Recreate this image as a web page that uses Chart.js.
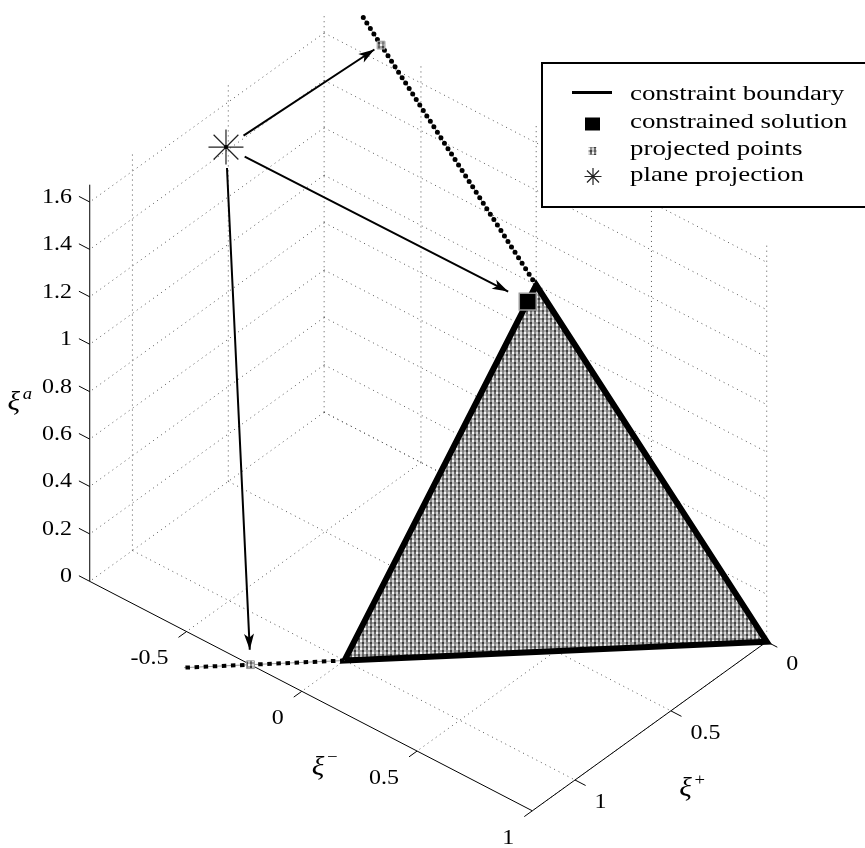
<!DOCTYPE html>
<html>
<head>
<meta charset="utf-8">
<script src="https://cdn.jsdelivr.net/npm/chart.js@4.4.1/dist/chart.umd.min.js"></script>
<style>
  html, body { margin: 0; padding: 0; background: #fff; }
</style>
</head>
<body>
<canvas id="c" width="865" height="848"></canvas>
<script>
// axis limits: xi-, xi+, xi^a
const minusLim = [-0.92, 1];
const plusLim = [0, 1.2227];
const alphaLim = [0, 1.673];

// tick values and labels
const minusTicks = [-0.5, 0, 0.5, 1];
const minusTickLabels = ['-0.5', '0', '0.5', '1'];
const plusTicks = [0, 0.5, 1];
const plusTickLabels = ['0', '0.5', '1'];
const alphaTicks = [0, 0.2, 0.4, 0.6, 0.8, 1, 1.2, 1.4, 1.6];
const alphaTickLabels = ['0', '0.2', '0.4', '0.6', '0.8', '1', '1.2', '1.4', '1.6'];

// points are [xi-, xi+, xi^a]
const constraintCorners = [[0, 0, 1], [0, 1, 0], [1, 0, 0]];
const upperExtension = [[0, 0, 1], [-0.753, 0, 1.753]];
const lowerExtension = [[0, 1, 0], [-0.38, 1.38, 0]];
const projectedPoints = [[-0.673, 0, 1.673], [-0.2227, 1.2227, 0]];
const constrainedSolution = [[0, 0.044, 0.956]];
const planeProjection = [[-0.92, 0.512, 1.417]];
const arrowTargets = [[-0.673, 0, 1.673], [0, 0.044, 0.956], [-0.2227, 1.2227, 0]];

const legendLabels = ['constraint boundary', 'constrained solution', 'projected points', 'plane projection'];

// view: screen step for one unit along xi-, xi+, xi^a
const view = { u: [0.9722, -0.8085, 0], v: [-0.5040, -0.5833, 1] };
const pxPerUnit = 237.1;
const originPx = { x: 536.2, y: 522.2 };
const W = 865, H = 848;

const proj = ([m, p, a]) => ({
    x: view.u[0] * m + view.u[1] * p + view.u[2] * a,
    y: view.v[0] * m + view.v[1] * p + view.v[2] * a
});
const GAP = { x: NaN, y: NaN };
const segments = list => list.flatMap(s => [...s.map(proj), GAP]);

const [mMin, mMax] = minusLim;
const [pMin, pMax] = plusLim;
const [aMin, aMax] = alphaLim;

// tick lengths (data units)
const zTickLen = 0.047, mTickLen = 0.042, pTickLen = 0.046;

// grid lines on floor and the two back walls
const gridSegs = [];
minusTicks.forEach(m => gridSegs.push([[m, pMin, aMin], [m, pMax, aMin]]));
plusTicks.forEach(p => gridSegs.push([[mMin, p, aMin], [mMax, p, aMin]]));
plusTicks.forEach(p => gridSegs.push([[mMin, p, aMin], [mMin, p, aMax]]));
alphaTicks.forEach(a => gridSegs.push([[mMin, pMin, a], [mMin, pMax, a]]));
minusTicks.forEach(m => gridSegs.push([[m, pMin, aMin], [m, pMin, aMax]]));
alphaTicks.forEach(a => gridSegs.push([[mMin, pMin, a], [mMax, pMin, a]]));

// axis lines + ticks
const axisSegs = [
    [[mMin, pMax, aMin], [mMin, pMax, aMax]],
    [[mMin, pMax, aMin], [mMax, pMax, aMin]],
    [[mMax, pMin, aMin], [mMax, pMax, aMin]]
];
alphaTicks.forEach(a => axisSegs.push([[mMin, pMax, a], [mMin - zTickLen, pMax, a]]));
minusTicks.forEach(m => axisSegs.push([[m, pMax, aMin], [m, pMax + mTickLen, aMin]]));
plusTicks.forEach(p => axisSegs.push([[mMax, p, aMin], [mMax + pTickLen, p, aMin]]));

// arrows from the plane projection, trimmed at both ends (pixels)
const arrowStartGap = 21;
const arrowEndGaps = [8, 22, 15];
const arrows = arrowTargets.map((t, i) => {
    const a = proj(planeProjection[0]), b = proj(t);
    const dx = b.x - a.x, dy = b.y - a.y, L = Math.hypot(dx, dy);
    const s = arrowStartGap / pxPerUnit / L, e = 1 - arrowEndGaps[i] / pxPerUnit / L;
    return [{ x: a.x + dx * s, y: a.y + dy * s }, { x: a.x + dx * e, y: a.y + dy * e }];
});

// stippled grey fill like the printed original
const canvas = document.getElementById('c');
const mainCtx = canvas.getContext('2d');
const makeStipple = () => {
    const tile = document.createElement('canvas');
    tile.width = 8; tile.height = 8;
    const t = tile.getContext('2d');
    const shades = [
        [245, 135, 215, 105],
        [165, 60, 185, 125],
        [215, 115, 245, 145],
        [185, 95, 155, 70]
    ];
    shades.forEach((row, y) => row.forEach((g, x) => {
        t.fillStyle = `rgb(${g},${g},${g})`;
        t.fillRect(x * 2, y * 2, 2, 2);
    }));
    return mainCtx.createPattern(tile, 'repeat');
};
const stipple = makeStipple();

const serif = '"Liberation Serif", "Times New Roman", serif';

// text with the slight horizontal stretch of the scanned figure
const drawText = (ctx, text, x, y, align, font, sx, baseline) => {
    ctx.save();
    ctx.font = font;
    ctx.textBaseline = baseline || 'alphabetic';
    ctx.textAlign = 'left';
    const w = ctx.measureText(text).width * sx;
    const left = align === 'right' ? x - w : align === 'center' ? x - w / 2 : x;
    ctx.translate(left, y);
    ctx.scale(sx, 1);
    ctx.fillStyle = '#000';
    ctx.fillText(text, 0, 0);
    ctx.restore();
};

const drawAsterisk = (ctx, x, y, r, lw) => {
    ctx.save();
    ctx.strokeStyle = '#222';
    ctx.lineWidth = lw;
    ctx.beginPath();
    for (let k = 0; k < 4; k++) {
        const ang = k * Math.PI / 4;
        ctx.moveTo(x - Math.cos(ang) * r, y - Math.sin(ang) * r);
        ctx.lineTo(x + Math.cos(ang) * r, y + Math.sin(ang) * r);
    }
    ctx.stroke();
    ctx.restore();
};

const annotations = {
    id: 'annotations',
    afterDatasetsDraw(chart) {
        const { ctx } = chart;
        const xs = chart.scales.x, ys = chart.scales.y;
        const px = pt => { const q = proj(pt); return { x: xs.getPixelForValue(q.x), y: ys.getPixelForValue(q.y) }; };
        const toPx = q => ({ x: xs.getPixelForValue(q.x), y: ys.getPixelForValue(q.y) });

        // arrow heads
        ctx.save();
        ctx.fillStyle = '#000';
        arrows.forEach(([s, e]) => {
            const a = toPx(s), b = toPx(e);
            const dx = b.x - a.x, dy = b.y - a.y, L = Math.hypot(dx, dy);
            const ux = dx / L, uy = dy / L, len = 16, hw = 5;
            ctx.beginPath();
            ctx.moveTo(b.x, b.y);
            ctx.lineTo(b.x - ux * len - uy * hw, b.y - uy * len + ux * hw);
            ctx.lineTo(b.x - ux * len * 0.75, b.y - uy * len * 0.75);
            ctx.lineTo(b.x - ux * len + uy * hw, b.y - uy * len - ux * hw);
            ctx.closePath();
            ctx.fill();
        });
        // small centre dot of the asterisk
        const c = px(planeProjection[0]);
        ctx.beginPath();
        ctx.arc(c.x, c.y, 2, 0, Math.PI * 2);
        ctx.fill();
        ctx.restore();

        // tick labels
        const tickFont = '20px ' + serif;
        alphaTicks.forEach((a, i) => {
            const o = px([mMin - zTickLen, pMax, a]);
            drawText(ctx, alphaTickLabels[i], o.x - 7, o.y + 6.5, 'right', tickFont, 1.2);
        });
        minusTicks.forEach((m, i) => {
            const o = px([m, pMax + mTickLen, aMin]);
            drawText(ctx, minusTickLabels[i], o.x - 10, o.y + 27, 'right', tickFont, 1.2);
        });
        plusTicks.forEach((p, i) => {
            const o = px([mMax + pTickLen, p, aMin]);
            drawText(ctx, plusTickLabels[i], o.x + 9, o.y + 23, 'left', tickFont, 1.2);
        });

        // axis labels
        const xiFont = 'italic 28px ' + serif, supFont = '17px ' + serif;
        const zMid = px([mMin, pMax, (aMin + aMax) / 2]);
        drawText(ctx, 'ξ', zMid.x - 76, zMid.y + 20, 'center', xiFont, 1.05, 'middle');
        drawText(ctx, 'a', zMid.x - 67, zMid.y + 12, 'left', 'italic ' + supFont, 1.1, 'middle');
        const mMid = px([(mMin + mMax) / 2, pMax, aMin]);
        drawText(ctx, 'ξ', mMid.x + 7, mMid.y + 72, 'center', xiFont, 1.05, 'middle');
        drawText(ctx, '−', mMid.x + 16, mMid.y + 61, 'left', supFont, 1.1, 'middle');
        const pMid = px([mMax, (pMin + pMax) / 2, aMin]);
        drawText(ctx, 'ξ', pMid.x + 36, pMid.y + 62, 'center', xiFont, 1.05, 'middle');
        drawText(ctx, '+', pMid.x + 45, pMid.y + 54, 'left', supFont, 1.1, 'middle');
    },
    afterDraw(chart) {
        const { ctx } = chart;
        // legend box
        ctx.save();
        ctx.fillStyle = '#fff';
        ctx.fillRect(542, 63, 340, 144);
        ctx.strokeStyle = '#000';
        ctx.lineWidth = 2;
        ctx.strokeRect(542, 63, 340, 144);
        // markers
        ctx.lineWidth = 3;
        ctx.beginPath();
        ctx.moveTo(572, 92.5);
        ctx.lineTo(612, 92.5);
        ctx.stroke();
        ctx.fillStyle = '#000';
        ctx.fillRect(585, 117.5, 15, 13);
        ctx.fillStyle = stipple;
        ctx.fillRect(588.5, 147, 8, 8);
        ctx.restore();
        drawAsterisk(ctx, 593, 176.5, 8.5, 1.2);
        const legendFont = '21px ' + serif;
        const rowsY = [99.5, 127.5, 154.5, 181];
        legendLabels.forEach((t, i) => drawText(ctx, t, 630, rowsY[i], 'left', legendFont, 1.28));
    }
};

const lineSet = (label, data, extra) => Object.assign({
    label, data, showLine: true, spanGaps: false, pointRadius: 0, pointHoverRadius: 0,
    borderColor: '#000', borderWidth: 1, fill: false, clip: false
}, extra);

new Chart(canvas, {
    type: 'scatter',
    data: {
        datasets: [
            lineSet('grid', segments(gridSegs), { borderColor: '#555', borderDash: [1, 4], order: 12 }),
            lineSet('axes', segments(axisSegs), { order: 11 }),
            lineSet(legendLabels[0], [...constraintCorners, constraintCorners[0], constraintCorners[1]].map(proj), {
                fill: 'shape', backgroundColor: stipple, borderWidth: 6, borderJoinStyle: 'miter', order: 10
            }),
            lineSet('upper guide', upperExtension.map(proj), { borderColor: '#999', order: 9 }),
            lineSet('upper extension', upperExtension.map(proj), {
                borderWidth: 5, borderDash: [0, 6.5], borderCapStyle: 'round', order: 8
            }),
            lineSet('lower guide', lowerExtension.map(proj), { borderColor: '#999', order: 7 }),
            lineSet('lower extension', lowerExtension.map(proj), {
                borderWidth: 4, borderDash: [4.5, 4.6], order: 6
            }),
            lineSet('arrows', arrows.flatMap(a => [...a, GAP]), { borderWidth: 2, order: 5 }),
            {
                label: legendLabels[2], data: projectedPoints.map(proj), pointStyle: 'rect',
                pointRadius: 5.5, pointHoverRadius: 5.5, backgroundColor: stipple,
                borderColor: '#999', borderWidth: 1, clip: false, order: 4
            },
            {
                label: legendLabels[1], data: constrainedSolution.map(proj), pointStyle: 'rect',
                pointRadius: 12, pointHoverRadius: 12, backgroundColor: '#000',
                borderColor: '#999', borderWidth: 1.5, clip: false, order: 3
            },
            {
                label: legendLabels[3], data: planeProjection.map(proj), pointStyle: 'star',
                pointRadius: 17.5, pointHoverRadius: 17.5, backgroundColor: '#222',
                borderColor: '#222', borderWidth: 1.2, clip: false, order: 2
            }
        ]
    },
    options: {
        responsive: false,
        devicePixelRatio: 1,
        animation: false,
        events: [],
        layout: { padding: 0, autoPadding: false },
        plugins: { legend: { display: false }, tooltip: { enabled: false } },
        scales: {
            x: { type: 'linear', display: false, min: -originPx.x / pxPerUnit, max: (W - originPx.x) / pxPerUnit },
            y: { type: 'linear', display: false, min: -(H - originPx.y) / pxPerUnit, max: originPx.y / pxPerUnit }
        }
    },
    plugins: [annotations]
});
</script>
</body>
</html>
